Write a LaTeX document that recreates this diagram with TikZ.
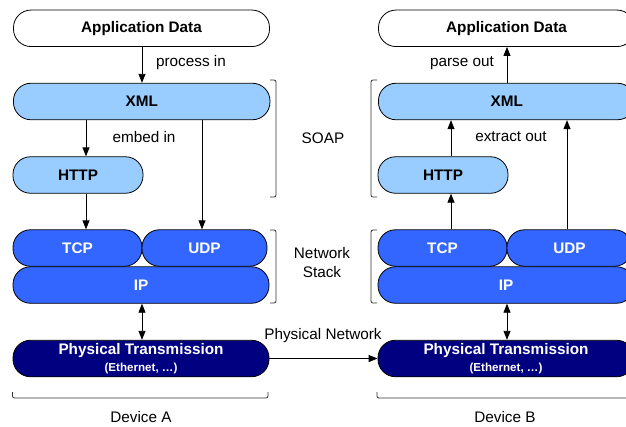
\documentclass[tikz,border=0pt]{standalone}
\usepackage{fontspec}
\setmainfont{Liberation Sans}
\usetikzlibrary{arrows.meta}
\definecolor{lightb}{RGB}{153,204,255}
\definecolor{midb}{RGB}{51,102,255}
\definecolor{navyb}{RGB}{0,0,128}
\tikzset{
  layer/.style={draw=black, line width=0.8pt, rounded corners=17.5pt, inner sep=0pt,
    minimum height=36.5pt, font=\fontsize{15.3}{18}\selectfont\bfseries},
  appbox/.style={layer, fill=white, text=black},
  soapbox/.style={layer, fill=lightb, text=black},
  netbox/.style={layer, fill=midb, text=white},
  phybox/.style={layer, fill=navyb, text=white, align=center},
  lbl/.style={font=\fontsize{15.3}{18}\selectfont, inner sep=0pt, align=center},
  arr/.style={line width=0.8pt, -{Triangle[length=9pt,width=7pt]}},
  darr/.style={line width=0.8pt, {Triangle[length=9pt,width=7pt]}-{Triangle[length=9pt,width=7pt]}},
  con/.style={line width=0.8pt},
  brk/.style={line width=0.8pt, rounded corners=2pt, draw=black!80},
}
\newcommand{\phytext}{Physical Transmission\\[-1pt]{\fontsize{11.6}{14}\selectfont (Ethernet, …)}}
\begin{document}
\begin{tikzpicture}[x=1pt,y=-1pt]
\useasboundingbox (0,0) rectangle (626,426);
\clip (0,0) rectangle (626,426);
% ---------------- Device A ----------------
\node[appbox, minimum width=256pt] (appA) at (141.5,28.3) {Application Data};
\node[soapbox, minimum width=256.5pt] (xmlA) at (141.7,101.5) {XML};
\node[soapbox, minimum width=130pt] (httpA) at (78,175) {HTTP};
\node[netbox, minimum width=256pt] (ipA) at (141,285) {IP};
\node[netbox, minimum width=129pt] (tcpA) at (77.5,248) {TCP};
\node[netbox, minimum width=125pt] (udpA) at (204.5,248) {UDP};
\node[phybox, minimum width=256pt] (phyA) at (141,358.5) {\phytext};
% ---------------- Device B ----------------
\begin{scope}[xshift=365pt]
\node[appbox, minimum width=256pt] (appB) at (141.5,28.3) {Application Data};
\node[soapbox, minimum width=256.5pt] (xmlB) at (141.7,101.5) {XML};
\node[soapbox, minimum width=130pt] (httpB) at (78,175) {HTTP};
\node[netbox, minimum width=256pt] (ipB) at (141,285) {IP};
\node[netbox, minimum width=129pt] (tcpB) at (77.5,248) {TCP};
\node[netbox, minimum width=125pt] (udpB) at (204.5,248) {UDP};
\node[phybox, minimum width=256pt] (phyB) at (141,358.5) {\phytext};
\end{scope}
% ---------------- connectors A ----------------
\draw[arr] ([xshift=0.5pt]appA.south) -- ([xshift=0.5pt]appA.south |- xmlA.north);
\draw[arr] ([xshift=8pt]httpA.north |- xmlA.south) -- ([xshift=8pt]httpA.north);
\draw[arr] ([xshift=8pt]httpA.south) -- ([xshift=8pt]httpA.south |- tcpA.north);
\draw[arr] ([xshift=-2.5pt]udpA.north |- xmlA.south) -- ([xshift=-2.5pt]udpA.north);
\draw[darr] ([xshift=1pt]ipA.south) -- ([xshift=1pt]ipA.south |- phyA.north);
% ---------------- connectors B ----------------
\draw[arr] ([xshift=0.5pt]appB.south |- xmlB.north) -- ([xshift=0.5pt]appB.south);
\draw[arr] ([xshift=8pt]httpB.north) -- ([xshift=8pt]httpB.north |- xmlB.south);
\draw[arr] ([xshift=8pt]httpB.south |- tcpB.north) -- ([xshift=8pt]httpB.south);
\draw[arr] ([xshift=-2.5pt]udpB.north) -- ([xshift=-2.5pt]udpB.north |- xmlB.south);
\draw[darr] ([xshift=1pt]ipB.south) -- ([xshift=1pt]ipB.south |- phyB.north);
\draw[arr] (phyA.east) -- (phyB.west);
% ---------------- labels ----------------
\node[lbl] (lproc) at (191,63) {process in};
\node[lbl] (lemb) at (144,137) {embed in};
\node[lbl] (lparse) at (462,63) {parse out};
\node[lbl] (lext) at (511,137) {extract out};
\node[lbl] (lsoap) at (323,138) {SOAP};
\node[lbl, font=\fontsize{15.3}{19}\selectfont] (lnet) at (322,262.5) {Network\\Stack};
\node[lbl] (lphy) at (323,336) {Physical Network};
\node[lbl] (ldevA) at (141,417) {Device A};
\node[lbl] (ldevB) at (505,417) {Device B};
% ---------------- brackets ----------------
\draw[brk] (270,80) -- (276,80) -- (276,197) -- (270,197);
\draw[brk] (270,230) -- (276,230) -- (276,303) -- (270,303);
\draw[brk] (377,80) -- (371,80) -- (371,197) -- (377,197);
\draw[brk] (377,230) -- (371,230) -- (371,303) -- (377,303);
\draw[brk] (12.5,392) -- (12.5,398) -- (268,398) -- (268,392);
\draw[brk] (377,392) -- (377,398) -- (640,398);
\end{tikzpicture}
\end{document}
